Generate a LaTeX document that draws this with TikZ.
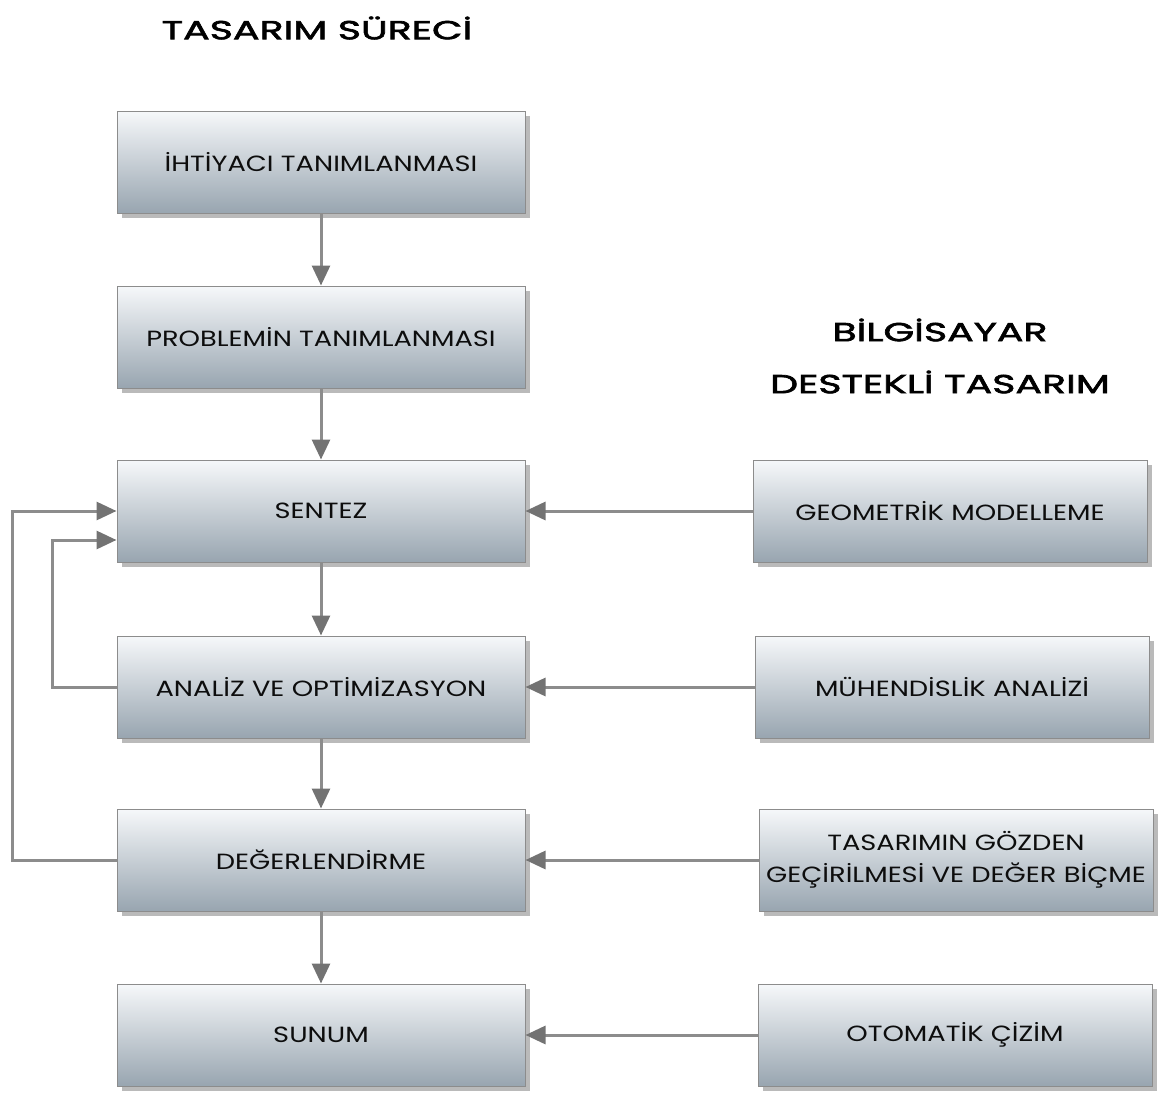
\documentclass[tikz,border=0pt]{standalone}
\usepackage{fontspec}
\setmainfont{Poppins}
\newfontfamily\boxfont{Poppins}[FakeStretch=1.24]
\newfontfamily\ttlfont{Poppins}[FakeStretch=1.52,FakeBold=2.5]
\usetikzlibrary{shadows,arrows.meta}
\definecolor{boxtop}{RGB}{246,248,250}
\definecolor{boxbot}{RGB}{152,165,176}
\definecolor{boxline}{RGB}{140,140,140}
\definecolor{arrgray}{RGB}{140,140,140}
\definecolor{tipgray}{RGB}{115,115,115}
\tikzset{
  pbox/.style={draw=boxline, line width=1pt, top color=boxtop, bottom color=boxbot,
    drop shadow={shadow xshift=5pt, shadow yshift=-5pt, opacity=0.45, fill=black!60},
    minimum height=102pt, align=center, font=\boxfont\fontsize{22}{32}\selectfont, text=black!95},
  lbox/.style={pbox, minimum width=408pt},
  rbox/.style={pbox, minimum width=394pt},
  arr/.style={draw=arrgray, line width=3pt, -{Triangle[length=20pt,width=18pt,fill=tipgray,color=tipgray]}},
  ttl/.style={font=\ttlfont\fontsize{26}{32}\selectfont, text=black, align=center}
}
\begin{document}
\begin{tikzpicture}[x=1pt,y=-1pt]
\useasboundingbox (0,0) rectangle (1163,1095);
\node[ttl] (t1) at (317,28) {TASARIM SÜRECİ};
\node[ttl] (t2) at (940,330) {BİLGİSAYAR};
\node[ttl] (t3) at (940,382) {DESTEKLİ TASARIM};

\node[lbox] (b1) at (321,162) {İHTİYACI TANIMLANMASI};
\node[lbox] (b2) at (321,337) {PROBLEMİN TANIMLANMASI};
\node[lbox] (b3) at (321,511) {SENTEZ};
\node[lbox] (b4) at (321,687) {ANALİZ VE OPTİMİZASYON};
\node[lbox] (b5) at (321,860) {DEĞERLENDİRME};
\node[lbox] (b6) at (321,1035) {SUNUM};

\node[rbox] (r1) at (950,511) {GEOMETRİK MODELLEME};
\node[rbox] (r2) at (952,687) {MÜHENDİSLİK ANALİZİ};
\node[rbox] (r3) at (956,860) {TASARIMIN GÖZDEN\\GEÇİRİLMESİ VE DEĞER BİÇME};
\node[rbox] (r4) at (955,1035) {OTOMATİK ÇİZİM};

\draw[arr] (b1) -- (b2);
\draw[arr] (b2) -- (b3);
\draw[arr] (b3) -- (b4);
\draw[arr] (b4) -- (b5);
\draw[arr] (b5) -- (b6);

\draw[arr] (r1) -- (b3);
\draw[arr] (r2) -- (b4);
\draw[arr] (r3) -- (b5);
\draw[arr] (r4) -- (b6);

\coordinate (o1) at (12,860);
\coordinate (o2) at (52,687);
\draw[arr] (b5.west) -- (o1) |- ([yshift=0pt]b3.west);
\draw[arr] (b4.west) -- (o2) |- ([yshift=-29pt]b3.west);
\end{tikzpicture}
\end{document}
